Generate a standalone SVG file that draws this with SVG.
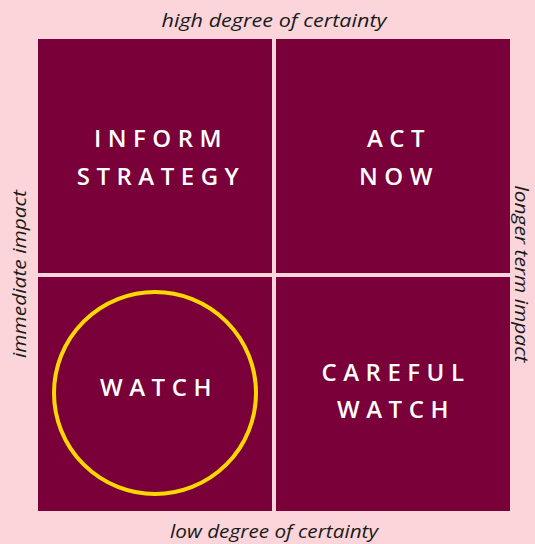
<svg xmlns="http://www.w3.org/2000/svg" width="535" height="544" viewBox="0 0 535 544">
<style>
.q{fill:#7a0039}
.lbl{font-family:"Open Sans","Noto Sans",sans-serif;font-weight:600;font-size:24px;letter-spacing:6.5px;fill:#ffffff;text-anchor:middle}
.ax{font-family:"Open Sans","Noto Sans",sans-serif;font-style:italic;font-size:19px;fill:#1a1a1a;text-anchor:middle}
</style>
<rect x="0" y="0" width="535" height="544" fill="#fbd5d9"/>
<g id="inform-strategy">
<rect class="q" x="38" y="39" width="234" height="234"/>
<text class="lbl" x="161" y="147">INFORM</text>
<text class="lbl" x="161" y="185">STRATEGY</text>
</g>
<g id="act-now">
<rect class="q" x="276" y="39" width="234" height="234"/>
<text class="lbl" x="399" y="147">ACT</text>
<text class="lbl" x="399" y="185">NOW</text>
</g>
<g id="watch">
<rect class="q" x="38" y="277" width="234" height="234"/>
<circle cx="155" cy="393" r="101" fill="none" stroke="#ffd700" stroke-width="4"/>
<text class="lbl" x="159" y="396">WATCH</text>
</g>
<g id="careful-watch">
<rect class="q" x="276" y="277" width="234" height="234"/>
<text class="lbl" x="396" y="381">CAREFUL</text>
<text class="lbl" x="396" y="418">WATCH</text>
</g>
<g id="axis-labels">
<text class="ax" x="274" y="27" textLength="225" lengthAdjust="spacingAndGlyphs">high degree of certainty</text>
<text class="ax" x="274" y="538" textLength="208" lengthAdjust="spacingAndGlyphs">low degree of certainty</text>
<text class="ax" transform="translate(26,274) rotate(-90)" textLength="168" lengthAdjust="spacingAndGlyphs">immediate impact</text>
<text class="ax" transform="translate(515,274) rotate(90)" textLength="177" lengthAdjust="spacingAndGlyphs">longer term impact</text>
</g>
<g id="connectors"/>
</svg>
